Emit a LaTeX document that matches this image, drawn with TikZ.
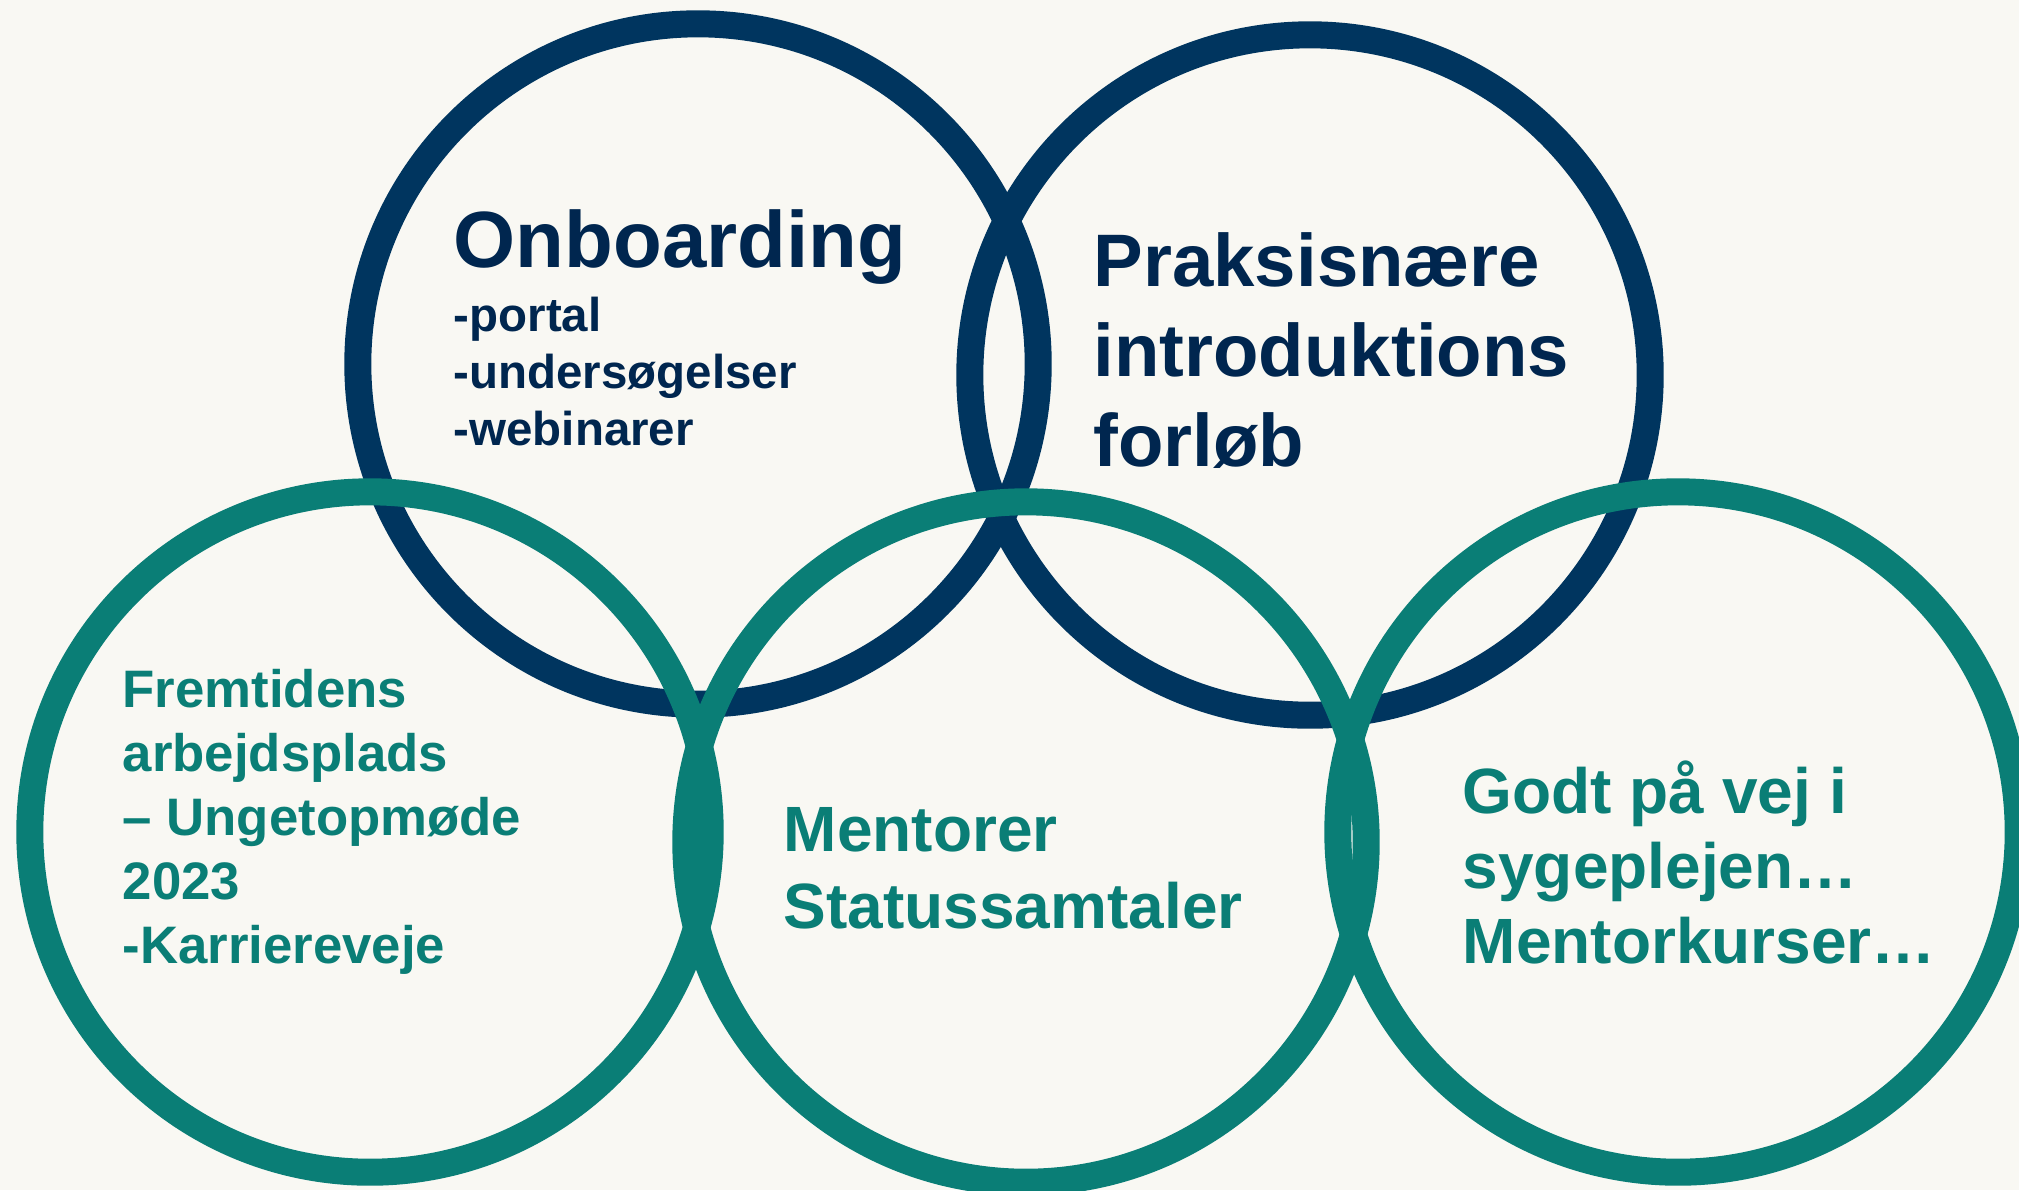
\documentclass[tikz,border=0pt]{standalone}
\usepackage{fontspec}
\setmainfont{Liberation Sans}
\usetikzlibrary{positioning,calc}
\definecolor{ringnavy}{HTML}{00355F}
\definecolor{textnavy}{HTML}{00264F}
\definecolor{ringteal}{HTML}{0A7E76}
\definecolor{paper}{HTML}{F9F8F3}
\begin{document}
\begin{tikzpicture}[x=0.01cm,y=-0.01cm,
  ring/.style={circle,line width=0.27cm,minimum size=6.8cm,inner sep=0pt},
  lbl/.style={anchor=base west,inner sep=0pt,align=left}]
\useasboundingbox[fill=paper] (0,0) rectangle (2019,1190);
% top rings
\node[ring,draw=ringnavy] (onbring) at (698,364) {};
\node[ring,draw=ringnavy] (praksring) at (1310,375) {};
% bottom rings
\node[ring,draw=ringteal] (fremring) at (370,832) {};
\node[ring,draw=ringteal] (mentring) at (1026,842) {};
\node[ring,draw=ringteal] (godtring) at (1678,832) {};
% Onboarding (base = last line)
\node[lbl,text=textnavy,font=\bfseries\fontsize{22.7}{27}\selectfont] (onbtitle) at (453,267) {
Onboarding
};
\node[lbl,text=textnavy,font=\bfseries\fontsize{13.5}{16.2}\selectfont] (onblist) at (453,445) {
-portal\\
-undersøgelser\\
-webinarer
};
% Praksisnaere
\node[lbl,text=textnavy,font=\bfseries\fontsize{21.15}{25.5}\selectfont] (praks) at (1093,466) {
Praksisnære\\
introduktions\\
forløb
};
% Fremtidens
\node[lbl,text=ringteal,font=\bfseries\fontsize{15}{18.2}\selectfont] (frem) at (122,963) {
Fremtidens\\
arbejdsplads\\
– Ungetopmøde\\
2023\\
-Karriereveje
};
% Mentorer
\node[lbl,text=ringteal,font=\bfseries\fontsize{18.2}{21.9}\selectfont] (ment) at (783,928) {
Mentorer\\
Statussamtaler
};
% Godt paa vej
\node[lbl,text=ringteal,font=\bfseries\fontsize{18.2}{21.3}\selectfont] (godt) at (1462,963) {
Godt på vej i\\
sygeplejen…\\
Mentorkurser…
};
\end{tikzpicture}
\end{document}
